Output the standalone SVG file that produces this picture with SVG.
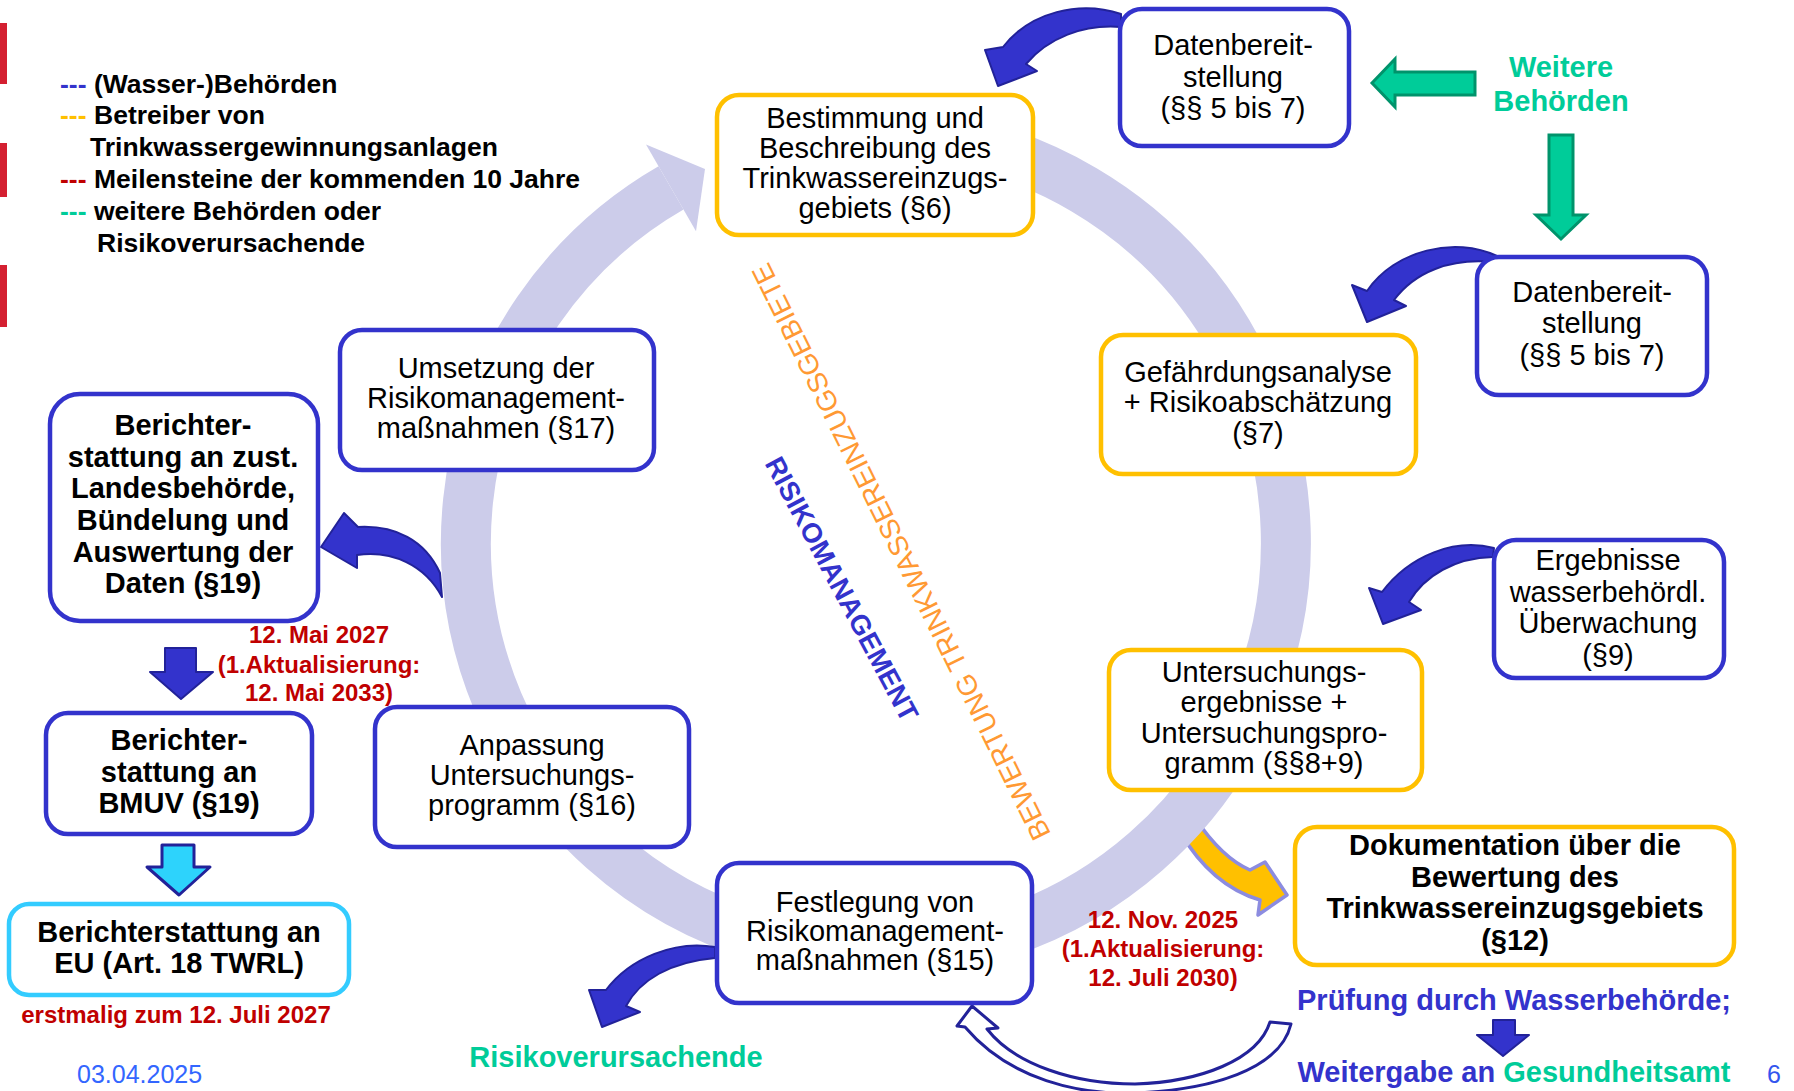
<svg xmlns="http://www.w3.org/2000/svg" width="1794" height="1091" viewBox="0 0 1794 1091">
<style>
.t{font-family:"Liberation Sans",Arial,sans-serif;font-size:29px;text-anchor:middle;fill:#000}
.b{font-weight:bold}
.lg{font-family:"Liberation Sans",Arial,sans-serif;font-size:26.5px;font-weight:bold;fill:#000}
.red{font-family:"Liberation Sans",Arial,sans-serif;font-size:24px;font-weight:bold;fill:#c00000;text-anchor:middle}
.bb{fill:#fff;stroke:#3333cc;stroke-width:4.5}
.by{fill:#fff;stroke:#ffc000;stroke-width:4.5}
.bc{fill:#fff;stroke:#33ccff;stroke-width:4.5}
.ca{fill:#3333cc;stroke:#222299;stroke-width:2;stroke-linejoin:round}
.ga{fill:#00cc99;stroke:#00936b;stroke-width:3}
.grn{fill:#00cc99}
</style>
<rect width="1794" height="1091" fill="#fff"/>
<g id="redbars" fill="#d42031">
<rect x="0" y="23" width="7" height="61"/>
<rect x="0" y="143" width="7" height="54"/>
<rect x="0" y="265" width="7" height="62"/>
</g>
<g id="legend">
<text class="lg" x="60" y="93"><tspan fill="#3333cc">---</tspan><tspan x="94">(Wasser-)Behörden</tspan></text>
<text class="lg" x="60" y="124"><tspan fill="#ffc000">---</tspan><tspan x="94">Betreiber von</tspan></text>
<text class="lg" x="90" y="156">Trinkwassergewinnungsanlagen</text>
<text class="lg" x="60" y="188"><tspan fill="#c00000">---</tspan><tspan x="94">Meilensteine der kommenden 10 Jahre</tspan></text>
<text class="lg" x="60" y="220"><tspan fill="#00cc99">---</tspan><tspan x="94">weitere Behörden oder</tspan></text>
<text class="lg" x="97" y="252">Risikoverursachende</text>
</g>
<g id="connectors">
<path d="M1180,832 L1195,818 Q1222,858 1250,870 L1265,862 L1287,895 L1258,915 L1260,900 Q1212,886 1180,832 Z" fill="#ffc000" stroke="#8c8ce0" stroke-width="3.5" stroke-linejoin="round"/>
<path d="M911.7,134.6 A410,410 0 1 1 671,187.9" fill="none" stroke="#ccccea" stroke-width="50"/>
<polygon points="646,144.6 705,169 696,231.2" fill="#ccccea"/>
<path class="ca" d="M1121,14 C1080,0 1030,12 1003,47 L985,50 L998,86 L1037,71 L1026,64 C1048,38 1083,24 1121,27 Z"/>
<path class="ca" d="M1497,256 C1455,236 1395,250 1367,291 L1352,285 L1367,322 L1406,306 L1394,300 C1415,272 1450,258 1493,262 Z"/>
<path class="ca" d="M1494,548 C1455,538 1410,555 1382,592 L1369,588 L1383,624 L1421,610 L1409,602 C1425,575 1455,558 1493,557 Z"/>
<path class="ca" d="M715,947 C675,940 630,958 606,990 L589,990 L602,1027 L640,1012 L626,1006 C640,980 670,962 715,958 Z"/>
<path class="ca" d="M440,573 C425,540 395,525 358,527 L344,513 L321,547 L357,568 L357,555 C392,550 425,565 442,597 Z"/>
<polygon class="ga" points="1372,83 1395,59 1395,72 1475,72 1475,95 1395,95 1395,107"/>
<polygon class="ga" points="1549,135 1573,135 1573,215 1586,215 1561,239 1536,215 1549,215"/>
<polygon class="ca" points="165,648 196,648 196,672 213,672 181,699 150,672 165,672"/>
<polygon points="162,845 194,845 194,867 210,867 179,895 147,867 162,867" fill="#2dd3fc" stroke="#222299" stroke-width="3" stroke-linejoin="round"/>
<polygon class="ca" points="1493,1020 1515,1020 1515,1035 1529,1035 1503,1056 1477,1035 1493,1035"/>
<path d="M965,1027 C1010,1080 1080,1095 1135,1093 C1210,1090 1280,1070 1291,1024 L1270,1022 C1258,1060 1200,1082 1135,1084 C1075,1084 1015,1065 987,1029 L998,1028 L972,1006 L957,1026 Z" fill="#fff" stroke="#222299" stroke-width="3" stroke-linejoin="round"/>
</g>
<g id="labels">
<text class="t" transform="translate(901,552) rotate(-116.3)" dy="0.35em" style="font-size:28px;fill:#ff9933">BEWERTUNG TRINKWASSEREINZUGSGEBIETE</text>
<text class="t b" transform="translate(842,589) rotate(62)" dy="0.35em" style="font-size:27.5px;fill:#3333cc">RISIKOMANAGEMENT</text>
<text class="t b grn" x="1561" y="77">Weitere</text>
<text class="t b grn" x="1561" y="111">Behörden</text>
<text class="red" x="319" y="643">12. Mai 2027</text>
<text class="red" x="319" y="673">(1.Aktualisierung:</text>
<text class="red" x="319" y="701">12. Mai 2033)</text>
<text class="red" x="176" y="1023">erstmalig zum 12. Juli 2027</text>
<text class="red" x="1163" y="928">12. Nov. 2025</text>
<text class="red" x="1163" y="957">(1.Aktualisierung:</text>
<text class="red" x="1163" y="986">12. Juli 2030)</text>
<text class="t b grn" x="616" y="1067">Risikoverursachende</text>
<text class="t b" x="1514" y="1010" style="fill:#3333cc">Prüfung durch Wasserbehörde;</text>
<text class="t b" x="1514" y="1082" style="fill:#3333cc">Weitergabe an <tspan class="grn">Gesundheitsamt</tspan></text>
<text x="77" y="1083" style="font-family:'Liberation Sans',Arial,sans-serif;font-size:25px;fill:#3366ff">03.04.2025</text>
<text x="1767" y="1083" style="font-family:'Liberation Sans',Arial,sans-serif;font-size:25px;fill:#3355ee">6</text>
</g>
<g id="nodeA"><rect class="bb" x="1120" y="9" width="229" height="137" rx="22"/>
<text class="t" x="1233" y="55">Datenbereit-</text><text class="t" x="1233" y="87">stellung</text><text class="t" x="1233" y="118">(§§ 5 bis 7)</text></g>
<g id="nodeB"><rect class="by" x="717" y="95" width="316" height="140" rx="22"/>
<text class="t" x="875" y="128">Bestimmung und</text><text class="t" x="875" y="158">Beschreibung des</text><text class="t" x="875" y="188">Trinkwassereinzugs-</text><text class="t" x="875" y="218">gebiets (§6)</text></g>
<g id="nodeC"><rect class="bb" x="1477" y="257" width="230" height="138" rx="22"/>
<text class="t" x="1592" y="302">Datenbereit-</text><text class="t" x="1592" y="333">stellung</text><text class="t" x="1592" y="365">(§§ 5 bis 7)</text></g>
<g id="nodeD"><rect class="by" x="1101" y="335" width="315" height="139" rx="22"/>
<text class="t" x="1258" y="382">Gefährdungsanalyse</text><text class="t" x="1258" y="412">+ Risikoabschätzung</text><text class="t" x="1258" y="443">(§7)</text></g>
<g id="nodeE"><rect class="by" x="1109" y="650" width="313" height="140" rx="22"/>
<text class="t" x="1264" y="682">Untersuchungs-</text><text class="t" x="1264" y="712">ergebnisse +</text><text class="t" x="1264" y="743">Untersuchungspro-</text><text class="t" x="1264" y="773">gramm (§§8+9)</text></g>
<g id="nodeF"><rect class="bb" x="1494" y="540" width="230" height="138" rx="22"/>
<text class="t" x="1608" y="570">Ergebnisse</text><text class="t" x="1608" y="602">wasserbehördl.</text><text class="t" x="1608" y="633">Überwachung</text><text class="t" x="1608" y="665">(§9)</text></g>
<g id="nodeG"><rect class="bb" x="340" y="330" width="314" height="140" rx="22"/>
<text class="t" x="496" y="378">Umsetzung der</text><text class="t" x="496" y="408">Risikomanagement-</text><text class="t" x="496" y="438">maßnahmen (§17)</text></g>
<g id="nodeH"><rect class="bb" x="50" y="394" width="268" height="227" rx="30"/>
<text class="t b" x="183" y="435">Berichter-</text><text class="t b" x="183" y="467">stattung an zust.</text><text class="t b" x="183" y="498">Landesbehörde,</text><text class="t b" x="183" y="530">Bündelung und</text><text class="t b" x="183" y="562">Auswertung der</text><text class="t b" x="183" y="593">Daten (§19)</text></g>
<g id="nodeI"><rect class="bb" x="46" y="713" width="266" height="121" rx="22"/>
<text class="t b" x="179" y="750">Berichter-</text><text class="t b" x="179" y="782">stattung an</text><text class="t b" x="179" y="813">BMUV (§19)</text></g>
<g id="nodeJ"><rect class="bc" x="9" y="904" width="340" height="91" rx="20"/>
<text class="t b" x="179" y="942">Berichterstattung an</text><text class="t b" x="179" y="973">EU (Art. 18 TWRL)</text></g>
<g id="nodeK"><rect class="bb" x="375" y="707" width="314" height="140" rx="22"/>
<text class="t" x="532" y="755">Anpassung</text><text class="t" x="532" y="785">Untersuchungs-</text><text class="t" x="532" y="815">programm (§16)</text></g>
<g id="nodeL"><rect class="bb" x="717" y="863" width="315" height="140" rx="22"/>
<text class="t" x="875" y="912">Festlegung von</text><text class="t" x="875" y="941">Risikomanagement-</text><text class="t" x="875" y="970">maßnahmen (§15)</text></g>
<g id="nodeM"><rect class="by" x="1295" y="827" width="439" height="138" rx="22"/>
<text class="t b" x="1515" y="855">Dokumentation über die</text><text class="t b" x="1515" y="887">Bewertung des</text><text class="t b" x="1515" y="918">Trinkwassereinzugsgebiets</text><text class="t b" x="1515" y="950">(§12)</text></g>
</svg>
